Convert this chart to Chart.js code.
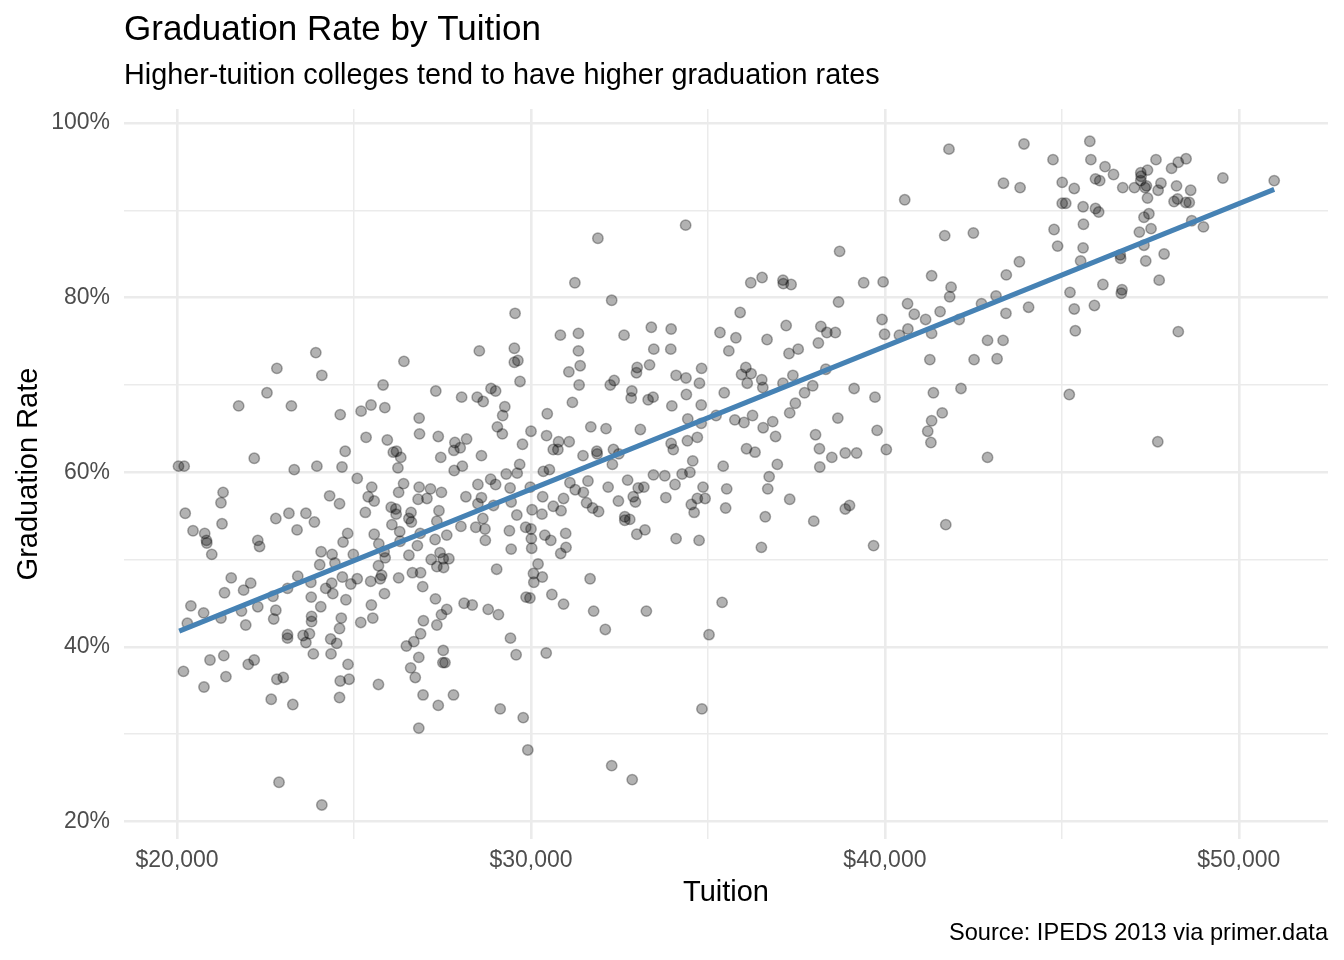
<!DOCTYPE html>
<html>
<head>
<meta charset="utf-8">
<title>Graduation Rate by Tuition</title>
<script src="https://cdn.jsdelivr.net/npm/chart.js@4.4.1/dist/chart.umd.min.js"></script>
<style>
  html, body { margin: 0; padding: 0; background: #ffffff; }
  #chart { display: block; }
</style>
</head>
<body>
<canvas id="chart" width="1344" height="960"></canvas>
<script>
// values
const tuition = [
  23920, 22820, 24090, 22540, 21740, 23230, 22180, 20040, 20200, 23310,
  23950, 24310, 21300, 21240, 20230, 23160, 23640, 22790, 23880, 21270,
  20450, 23390, 20780, 20830, 20840, 22280, 22330, 20980, 24070, 24380,
  24030, 21530, 22080, 21340, 21880, 23410, 23120, 23780, 24200, 22710,
  23790, 20390, 20750, 20290, 21240, 21820, 22280, 22790, 22730, 21940,
  24060, 23800, 23800, 23120, 23120, 23560, 23740, 23640, 24340, 23850,
  24350, 20930, 21320, 22010, 22180, 20180, 21380, 22820, 23000, 20760,
  22660, 23270, 22880, 24090,
  29550, 28540, 29530, 29530, 29630, 26410, 29690, 25820, 27310, 28040,
  28480, 28650, 28870, 29000, 25480, 25200, 25870, 24610, 29260, 29200,
  26840, 29050, 29190, 30000, 25340, 25940, 26850, 27380, 27850, 28180,
  28000, 27820, 29760, 24750, 26110, 26200, 26320, 27450, 28600, 24660,
  26240, 27830, 28060, 29680, 29610, 29300, 25090, 25500, 26400, 26260,
  26840, 27160, 27470, 28500, 28860, 29000, 29410, 29980, 24590, 25400,
  25570, 26810, 27060, 28160, 28600, 28500, 28940, 29440, 25320, 26050,
  26180, 26190, 26610, 26550, 26620, 27400, 27340, 28640, 29600, 30030,
  26070, 26290, 26870, 28020, 28440, 28700, 29390, 29850, 30000, 24820,
  24690, 25570, 25700, 26300, 27290, 27620, 28710, 30010, 25850, 25880,
  26550, 26790, 27180, 27430, 27520, 27680, 27340, 27530, 24980, 24460,
  25690, 29030, 29440, 30020, 24670, 25090, 25470, 25780, 25740, 26260,
  26650, 26880, 24910, 26940, 24370, 30070, 30080, 24400, 24770, 25490,
  25860, 27300, 27620, 27470, 28110, 28340, 28790, 29080, 29860, 29970,
  24640, 24590, 25190, 25530, 26960, 27340, 26880, 26690, 26480, 24510,
  29420, 27520, 29580, 24830, 26830, 26600, 27510, 27570, 26730, 24610,
  24860, 25690, 24590, 26950, 27810, 27380, 29130, 29780, 26830, 29910,
  34370, 31890, 31240, 32280, 30830, 31340, 32630, 33400, 33960, 35340,
  31340, 33470, 33950, 35590, 31070, 31390, 31360, 32240, 32350, 33000,
  32980, 33350, 34100, 34380, 34760, 34820, 32850, 32830, 33310, 33450,
  34390, 35460, 31170, 33980, 34810, 30460, 30440, 31690, 32120, 33090,
  34430, 34810, 35230, 30780, 30630, 30760, 31080, 31470, 31860, 31870,
  32330, 32480, 32300, 33960, 34020, 34420, 34700, 34570, 35430, 30350,
  30520, 31100, 31250, 31610, 31480, 32180, 32730, 33030, 33190, 33460,
  33780, 34070, 34270, 34490, 34860, 35530, 30330, 30920, 33810, 34700,
  32890, 32470, 30630, 30310, 30850, 31570, 31740, 31910, 32950, 32650,
  32790, 32650, 34530, 34610, 34920, 35500, 33220, 32990, 34100, 34750,
  30390, 30560, 30980, 30990, 30840, 30200, 30320, 31670, 30590, 30920,
  31770, 33260, 32100, 35400, 35030, 30430, 34830, 32280, 32860,
  40560, 38720, 36210, 36530, 37120, 37130, 37350, 39400, 39950, 38690,
  41320, 35910, 37210, 38190, 38360, 38600, 39920, 39990, 40640, 40830,
  41150, 40650, 40410, 41320, 35790, 36670, 37290, 37550, 38120, 41270,
  36070, 35950, 36220, 36110, 36520, 36550, 37120, 37400, 38330, 37960,
  37730, 39130, 39720, 41370, 37470, 36260, 35760, 36020, 36830, 36560,
  36910, 37310, 38670, 38040, 39780, 41320, 41210, 41300, 36090, 36330,
  38150, 38500, 38880, 39200, 40040, 36960, 38160, 36730, 36690, 37310,
  36620, 37990, 38880, 39000, 36510, 39680, 41720,
  41810, 43930, 45790, 44750, 45820, 46220, 46460, 45950, 46070, 46720,
  43350, 43820, 45010, 45350, 45010, 45110, 45600, 45950, 46040, 45610,
  44780, 41690, 42500, 44880, 45600, 45530, 46650, 46660, 43800, 43430,
  41870, 41830, 46160, 46700, 46680, 45230, 43140, 42730, 41560, 42100,
  44060, 43420, 45350, 45920, 45380, 42900, 43340, 42520, 43170, 42150,
  45210, 41620, 42900,
  47660, 48290, 48510, 48100, 47230, 47420, 47230, 47240, 47050, 47350,
  47390, 47800, 47720, 48240, 48640, 49550, 51000, 47420, 48170, 48270,
  48500, 48600, 47460, 47320, 48670, 49000, 47520, 47190, 47320, 47890,
  47370, 47750, 48290, 47710
];

const gradRate = [
  73.7, 71.9, 71.1, 69.1, 67.6, 67.6, 61.6, 60.7, 60.7, 60.3,
  60.7, 57.3, 57.7, 56.5, 55.3, 55.3, 55.3, 54.7, 54.3, 54.1,
  53.3, 53.4, 53.0, 52.2, 51.9, 52.2, 51.5, 50.6, 50.9, 50.6,
  49.4, 47.9, 47.3, 46.2, 46.5, 48.1, 46.7, 47.4, 46.7, 45.8,
  45.7, 44.7, 43.9, 42.7, 43.3, 44.1, 44.6, 44.2, 43.2, 42.5,
  44.6, 43.5, 42.9, 41.4, 41.0, 41.3, 41.5, 40.5, 40.9, 39.2,
  39.2, 38.5, 39.0, 38.0, 38.5, 37.2, 36.6, 36.3, 36.5, 35.4,
  34.0, 33.4, 24.5, 21.9,
  78.2, 73.9, 74.2, 72.6, 72.8, 72.7, 70.4, 70.0, 69.3, 68.6,
  68.6, 68.1, 69.6, 69.3, 67.7, 67.0, 67.4, 66.6, 67.5, 66.5,
  66.2, 65.2, 64.4, 64.7, 64.0, 63.7, 64.4, 64.1, 63.4, 63.8,
  62.8, 62.5, 63.2, 62.4, 62.3, 62.4, 61.7, 61.7, 61.9, 60.6,
  60.5, 60.2, 60.7, 60.9, 59.9, 59.8, 59.3, 58.3, 58.7, 57.7,
  58.3, 58.1, 57.7, 58.6, 59.2, 58.6, 58.2, 58.3, 56.4, 57.2,
  56.7, 56.9, 57.0, 57.2, 57.1, 56.4, 56.2, 56.6, 55.4, 56.0,
  55.8, 55.2, 55.4, 54.7, 54.3, 55.6, 54.4, 54.7, 55.1, 55.7,
  54.0, 53.2, 53.0, 53.8, 53.7, 53.5, 53.3, 53.7, 53.5, 53.0,
  52.0, 52.9, 51.8, 52.1, 52.3, 52.8, 52.2, 52.4, 50.9, 50.2,
  50.5, 51.6, 50.0, 50.8, 50.1, 50.1, 49.2, 49.1, 50.6, 49.6,
  49.3, 48.9, 51.2, 51.3, 48.0, 47.8, 47.5, 48.2, 47.8, 47.9,
  48.5, 48.5, 47.2, 46.9, 47.3, 48.4, 47.4, 46.1, 45.4, 44.8,
  46.1, 45.5, 44.3, 43.7, 45.0, 44.8, 44.3, 43.7, 45.7, 45.6,
  43.3, 42.1, 42.8, 43.3, 43.0, 42.5, 41.5, 40.6, 40.1, 40.4,
  41.0, 39.6, 39.1, 38.0, 38.8, 37.6, 38.2, 38.2, 36.5, 36.1,
  36.3, 35.7, 34.2, 34.5, 34.5, 33.3, 32.9, 31.9, 30.7, 28.2,
  88.3, 86.8, 81.7, 79.7, 75.7, 75.9, 75.7, 76.6, 76.4, 76.0,
  73.9, 74.1, 74.1, 73.9, 71.5, 72.2, 70.0, 70.0, 70.5, 72.0,
  71.4, 72.3, 71.1, 70.8, 70.2, 71.9, 69.3, 68.5, 68.3, 68.6,
  68.9, 69.1, 68.0, 67.6, 67.7, 66.7, 64.2, 65.2, 65.0, 64.9,
  66.1, 65.6, 66.5, 63.5, 62.6, 62.6, 63.5, 61.9, 62.4, 62.1,
  62.6, 62.1, 60.9, 63.3, 62.6, 63.6, 64.0, 61.3, 60.7, 60.1,
  60.3, 58.8, 58.0, 59.0, 57.7, 58.3, 59.1, 58.2, 58.3, 59.7,
  59.6, 58.6, 59.8, 60.0, 58.3, 58.1, 57.2, 57.0, 57.1, 57.0,
  57.2, 56.7, 56.1, 55.2, 55.6, 56.5, 55.9, 55.5, 56.6, 54.9,
  54.6, 54.5, 56.3, 55.4, 57.0, 55.9, 53.4, 52.9, 52.4, 52.2,
  52.8, 52.2, 53.0, 51.4, 50.7, 49.5, 48.0, 47.8, 46.0, 44.9,
  44.1, 44.1, 42.0, 45.1, 41.4, 39.3, 32.9, 26.4, 24.8,
  91.2, 85.3, 81.7, 82.3, 82.0, 81.6, 81.5, 81.7, 81.8, 79.5,
  82.5, 78.3, 76.8, 76.7, 76.0, 76.0, 77.5, 75.8, 79.3, 78.1,
  77.5, 76.4, 75.7, 75.9, 75.4, 75.2, 73.6, 74.1, 74.8, 72.9,
  72.0, 71.2, 71.3, 70.2, 70.6, 69.7, 70.2, 71.1, 71.8, 69.9,
  69.1, 69.6, 68.6, 69.1, 67.9, 66.5, 66.0, 65.7, 65.8, 65.1,
  64.1, 66.8, 66.2, 64.3, 64.8, 65.9, 64.7, 63.4, 62.7, 62.3,
  62.7, 61.7, 62.2, 62.2, 62.6, 60.9, 60.6, 59.5, 58.1, 56.9,
  54.9, 54.4, 55.8, 56.2, 51.4, 51.6, 54.0,
  97.0, 97.6, 97.9, 95.8, 95.8, 95.0, 94.1, 93.6, 93.4, 92.6,
  93.1, 92.6, 93.2, 92.5, 90.8, 90.8, 90.4, 90.2, 89.8, 88.4,
  87.8, 87.1, 87.4, 85.9, 85.7, 84.2, 84.9, 84.5, 84.1, 82.6,
  81.2, 80.1, 81.5, 80.9, 80.5, 80.6, 80.2, 79.3, 78.4, 77.5,
  78.9, 78.2, 78.7, 79.1, 76.2, 75.1, 75.1, 72.9, 73.0, 69.6,
  68.9, 66.8, 61.7,
  95.8, 95.5, 95.9, 94.8, 94.3, 94.6, 93.4, 93.9, 92.6, 92.6,
  92.8, 93.1, 92.3, 92.8, 92.3, 93.7, 93.4, 91.4, 91.0, 91.3,
  90.9, 90.9, 89.6, 89.2, 88.8, 88.1, 87.9, 87.5, 86.0, 85.0,
  84.2, 82.0, 76.1, 63.5
];

// fitted trend line, end points
const fitX = [20060, 51000];
const fitY = [41.8, 92.4];

const xTicks = [20000, 25000, 30000, 35000, 40000, 45000, 50000];
const yTicks = [20, 30, 40, 50, 60, 70, 80, 90, 100];

const titleText = "Graduation Rate by Tuition";
const subtitleText = "Higher-tuition colleges tend to have higher graduation rates";
const xTitle = "Tuition";
const yTitle = "Graduation Rate";
const captionText = "Source: IPEDS 2013 via primer.data";

const FONT = "'Liberation Sans', Arial, Helvetica, sans-serif";

const points = tuition.map((t, i) => ({ x: t, y: gradRate[i] }));
const fitLine = fitX.map((t, i) => ({ x: t, y: fitY[i] }));

// titles, axis titles and caption laid out like ggplot
const textPlugin = {
  id: "ggText",
  afterDraw(chart) {
    const { ctx, chartArea } = chart;
    ctx.save();
    ctx.fillStyle = "#000000";
    ctx.textBaseline = "alphabetic";

    ctx.textAlign = "left";
    ctx.font = `35px ${FONT}`;
    ctx.fillText(titleText, chartArea.left, 40);
    ctx.font = `28.8px ${FONT}`;
    ctx.fillText(subtitleText, chartArea.left, 84);

    ctx.font = `29px ${FONT}`;
    ctx.textAlign = "center";
    ctx.fillText(xTitle, (chartArea.left + chartArea.right) / 2, 901);

    ctx.save();
    ctx.translate(37, (chartArea.top + chartArea.bottom) / 2);
    ctx.rotate(-Math.PI / 2);
    ctx.fillText(yTitle, 0, 0);
    ctx.restore();

    ctx.textAlign = "right";
    ctx.font = `23.6px ${FONT}`;
    ctx.fillText(captionText, chartArea.right, 940);
    ctx.restore();
  }
};

const isMajorX = v => v % 10000 === 0;
const isMajorY = v => v % 20 === 0;

new Chart(document.getElementById("chart").getContext("2d"), {
  type: "scatter",
  data: {
    datasets: [
      {
        type: "line",
        label: "fit",
        data: fitLine,
        borderColor: "#4682B4",
        borderWidth: 5,
        pointRadius: 0,
        fill: false,
        order: 0
      },
      {
        label: "colleges",
        data: points,
        backgroundColor: "rgba(0, 0, 0, 0.3)",
        borderColor: "rgba(0, 0, 0, 0.32)",
        borderWidth: 1.5,
        pointRadius: 5.2,
        order: 1
      }
    ]
  },
  options: {
    responsive: false,
    animation: false,
    devicePixelRatio: 1,
    layout: { padding: { top: 109, right: 16, bottom: 0, left: 0 } },
    plugins: {
      legend: { display: false },
      tooltip: { enabled: false },
      title: { display: false }
    },
    scales: {
      x: {
        type: "linear",
        min: 18500,
        max: 52520,
        afterBuildTicks: scale => { scale.ticks = xTicks.map(v => ({ value: v })); },
        afterFit: scale => { scale.height = 121; },
        border: { display: false },
        grid: {
          color: "#EBEBEB",
          lineWidth: c => (c.tick && isMajorX(c.tick.value) ? 2.6 : 1.5),
          drawTicks: false
        },
        ticks: {
          autoSkip: false,
          maxRotation: 0,
          padding: 8,
          color: "#4D4D4D",
          font: { family: FONT, size: 23 },
          callback: v => (isMajorX(v) ? "$" + v.toLocaleString("en-US") : "")
        }
      },
      y: {
        type: "linear",
        min: 18,
        max: 101.6,
        afterBuildTicks: scale => { scale.ticks = yTicks.map(v => ({ value: v })); },
        afterFit: scale => { scale.width = 124; },
        border: { display: false },
        grid: {
          color: "#EBEBEB",
          lineWidth: c => (c.tick && isMajorY(c.tick.value) ? 2.6 : 1.5),
          drawTicks: false
        },
        ticks: {
          autoSkip: false,
          padding: 14,
          color: "#4D4D4D",
          font: { family: FONT, size: 23 },
          callback: v => (isMajorY(v) ? v + "%" : "")
        }
      }
    }
  },
  plugins: [textPlugin]
});
</script>
</body>
</html>
